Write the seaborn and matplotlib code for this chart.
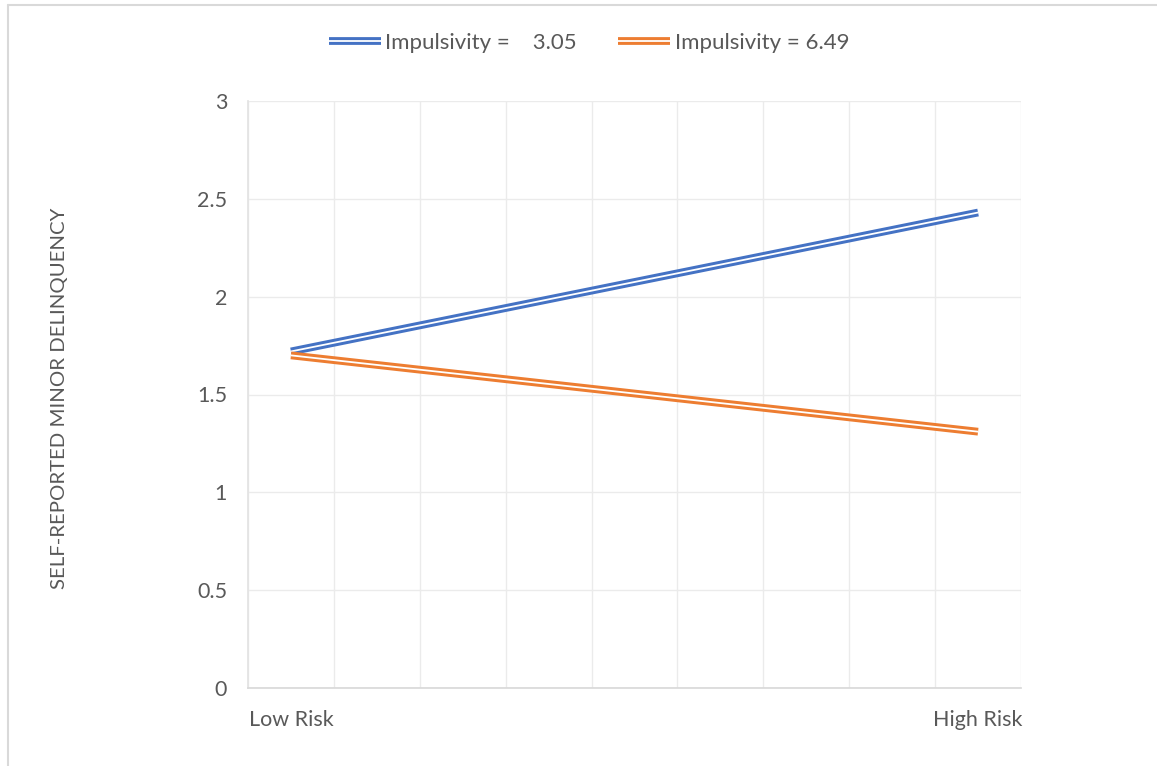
import pandas as pd
import seaborn as sns
import matplotlib.pyplot as plt
import matplotlib.patheffects as pe
from matplotlib.lines import Line2D
from matplotlib.ticker import MultipleLocator

# Datos
risk_labels = ["Low Risk", "High Risk"]
risk_pos = [0, 1]
impulsivity = ["Impulsivity =    3.05", "Impulsivity = 6.49"]
low_impulsivity = [1.72, 2.43]
high_impulsivity = [1.70, 1.31]
y_ticks = [0, 0.5, 1, 1.5, 2, 2.5, 3]
y_tick_labels = ["0", "0.5", "1", "1.5", "2", "2.5", "3"]

df = pd.DataFrame({
    "risk": risk_pos * 2,
    "delinquency": low_impulsivity + high_impulsivity,
    "group": [impulsivity[0]] * 2 + [impulsivity[1]] * 2,
})

sns.set_theme(style="white")
plt.rcParams["font.family"] = ["Lato", "DejaVu Sans"]
text_color = "#595959"
colors = ["#4472C4", "#ED7D31"]

fig = plt.figure(figsize=(11.57, 7.66), dpi=100)
ax = fig.add_axes([248 / 1157, 1 - 688 / 766, (1021 - 248) / 1157, (688 - 101) / 766])

sns.lineplot(data=df, x="risk", y="delinquency", hue="group", palette=colors,
             ax=ax, legend=False)

# linea doble estilo Excel
for line, c in zip(ax.lines, colors):
    line.set_color("white")
    line.set_linewidth(1.3)
    line.set_path_effects([pe.Stroke(linewidth=5.6, foreground=c), pe.Normal()])
    line.set_solid_capstyle("butt")

# eje de categorias: 9 divisiones, los puntos en el centro de la primera y ultima
ax.set_xlim(-1 / 16, 1 + 1 / 16)
ax.set_ylim(0, 3)
ax.set_xticks(risk_pos)
ax.set_xticklabels(risk_labels)
ax.xaxis.set_minor_locator(MultipleLocator(1 / 8, offset=-1 / 16))
ax.set_yticks(y_ticks)
ax.set_yticklabels(y_tick_labels)
ax.grid(True, which="minor", axis="x", color="#EBEBEB", lw=1)
ax.grid(True, which="major", axis="y", color="#EBEBEB", lw=1)
ax.tick_params(axis="both", which="both", length=0, labelsize=15.5, colors=text_color)
ax.tick_params(axis="x", pad=16)
ax.tick_params(axis="y", pad=15)
ax.set_xlabel("")
ax.set_ylabel("")

for side in ["top", "right"]:
    ax.spines[side].set_visible(False)
ax.spines["left"].set_color("#E3E3E3")
ax.spines["bottom"].set_color("#D9D9D9")

fig.text(60 / 1157, 1 - 398 / 766, "SELF-REPORTED MINOR DELINQUENCY", rotation=90,
         ha="center", va="center", fontsize=14.7, color=text_color)

handles = [ax.lines[0], ax.lines[1]]
leg = fig.legend(handles, impulsivity, loc="center", bbox_to_anchor=(589 / 1157, 1 - 43 / 766),
                 ncol=2, frameon=False, fontsize=16, handlelength=2.35, handletextpad=0.2,
                 columnspacing=1.85)
for t in leg.get_texts():
    t.set_color(text_color)

# borde del grafico recortado
fig.add_artist(Line2D([7.5 / 1157, 7.5 / 1157], [0, 1 - 4.5 / 766], color="#D9D9D9", lw=1.5))
fig.add_artist(Line2D([7.5 / 1157, 1], [1 - 4.5 / 766, 1 - 4.5 / 766], color="#D9D9D9", lw=1.5))

fig.savefig("out.png", dpi=100)
